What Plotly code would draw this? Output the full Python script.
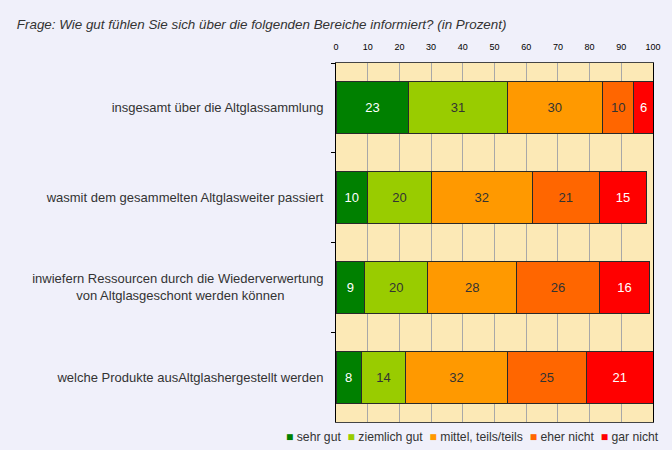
import plotly.graph_objects as go

# Question categories (top to bottom)
categories = [
    "insgesamt über die Altglassammlung",
    "wasmit dem gesammelten Altglasweiter passiert",
    "inwiefern Ressourcen durch die Wiederverwertung<br>von Altglasgeschont werden können\u2003\u2003\u2003",
    "welche Produkte ausAltglashergestellt werden",
]

series_names = ["sehr gut", "ziemlich gut", "mittel, teils/teils", "eher nicht", "gar nicht"]
sehr_gut = [23, 10, 9, 8]
ziemlich_gut = [31, 20, 20, 14]
mittel = [30, 32, 28, 32]
eher_nicht = [10, 21, 26, 25]
gar_nicht = [6, 15, 16, 21]
series_values = [sehr_gut, ziemlich_gut, mittel, eher_nicht, gar_nicht]

colors = ["#008000", "#99CC00", "#FF9900", "#FF6600", "#FF0000"]
text_colors = ["white", "#333333", "#333333", "#333333", "white"]
tick_vals = list(range(0, 101, 10))

fig = go.Figure()
for name, vals, col, tcol in zip(series_names, series_values, colors, text_colors):
    fig.add_trace(go.Bar(
        y=categories,
        x=vals,
        name=name,
        orientation="h",
        marker=dict(color=col, line=dict(color="#2a2a2a", width=1)),
        text=vals,
        textposition="inside",
        insidetextanchor="middle",
        textfont=dict(color=tcol, size=13, family="Liberation Sans, Arial"),
        width=0.58,
        showlegend=False,
    ))

# legend drawn as one text line with coloured squares
legend_html = "  ".join(
    f"<span style='color:{c}'>■</span> {n}" for n, c in zip(series_names, colors)
)
fig.add_annotation(
    text=legend_html,
    xref="paper", yref="paper",
    x=1.025, xanchor="right",
    y=-0.042, yanchor="middle",
    showarrow=False,
    font=dict(size=12.2, color="#333333"),
)

fig.update_layout(
    barmode="stack",
    width=672,
    height=450,
    paper_bgcolor="#F0F0FA",
    plot_bgcolor="#FCE9B6",
    margin=dict(l=336, r=19, t=63, b=28),
    font=dict(family="Liberation Sans, Arial", color="#333333"),
    title=dict(
        text="<i>Frage: Wie gut fühlen Sie sich über die folgenden Bereiche informiert? (in Prozent)</i>",
        x=0.025, xanchor="left", y=0.945, yanchor="middle",
        font=dict(size=13.4, color="#333333"),
    ),
    showlegend=False,
)

fig.update_xaxes(
    range=[0, 100],
    side="top",
    tickvals=tick_vals,
    tickfont=dict(size=9, color="#000000"),
    showgrid=True,
    gridcolor="#A8A8A8",
    gridwidth=1,
    zeroline=False,
    showline=True,
    mirror=True,
    linecolor="#444444",
    ticks="",
    ticklabelstandoff=8,
    fixedrange=True,
)
fig.update_yaxes(
    autorange="reversed",
    showline=True,
    mirror=True,
    linecolor="#000000",
    linewidth=1,
    ticks="outside",
    tickson="boundaries",
    ticklen=4,
    tickcolor="#000000",
    tickfont=dict(size=13, color="#333333"),
    showgrid=False,
    ticklabelstandoff=9,
)

fig.write_html(
    "out.html",
    config={"displayModeBar": False},
    post_script="document.body.style.margin='0';",
)
